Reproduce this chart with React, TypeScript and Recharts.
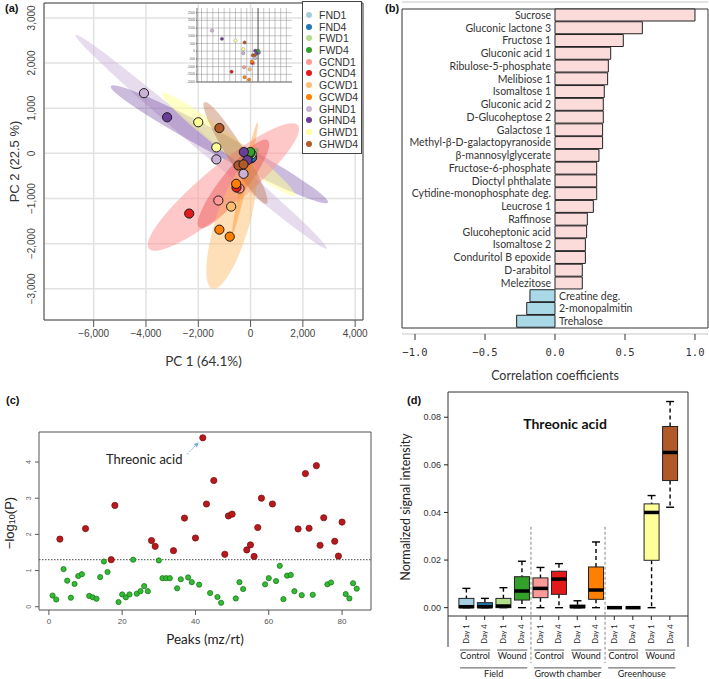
import React from 'react';
import {
  ScatterChart, Scatter, BarChart, Bar, Cell, LabelList, ComposedChart,
  XAxis, YAxis, CartesianGrid, ReferenceArea, ReferenceLine, ReferenceDot,
} from 'recharts';

const SANS = '"Liberation Sans", Arial, sans-serif';
const CAL = 'Lato, "Open Sans", sans-serif';
const MONO = '"DejaVu Sans Mono", monospace';
const MINUS = '\u2212';

// ---------- (a) PCA scores ----------
const groupNames = ['FND1', 'FND4', 'FWD1', 'FWD4', 'GCND1', 'GCND4', 'GCWD1', 'GCWD4', 'GHND1', 'GHND4', 'GHWD1', 'GHWD4'];
const groupColors = ['#a6cee3', '#1f78b4', '#b2df8a', '#33a02c', '#fb9a99', '#e31a1c', '#fdbf6f', '#ff7f00', '#cab2d6', '#6a3d9a', '#ffff99', '#b15928'];
const scoreX: number[][] = [
  [-70, 30], [-40, 60], [-20, 40], [-30, -12],
  [-1231, -423], [-2346, -538], [-742], [-550, -1192, -796],
  [-4077, -1308, -269], [-3192, -258, -120], [-2000, -1308], [-1192, -462, -269],
];
const scoreY: number[][] = [
  [-60, -110], [-30, -90], [10, -20], [-7, 30],
  [-1044, -778], [-1333, -756], [-1178], [-674, -1689, -1844],
  [1333, -133, -452], [800, 29, -150], [689, 133], [561, -267, -244],
];
// confidence ellipses: group, major-axis ends (data units)
const ellipseGroup = [8, 9, 10, 4, 5, 6, 11, 7, 3];
const ellipseFrom = [[-6692, 2622], [-5346, 1489], [-3385, 1333], [-3885, -2111], [-1962, -1644], [-1462, -3000], [-1769, 1133], [-692, -1778], [-300, -120]];
const ellipseTo = [[2923, -2111], [2962, -1089], [1692, -933], [1808, 622], [654, 289], [0, -200], [615, -1111], [269, 689], [300, 100]];
const ellipseHalfWidth = [8, 11, 9, 21, 13, 17, 9, 3, 4];
const ellipseOpacity = [0.45, 0.35, 0.55, 0.55, 0.3, 0.5, 0.35, 0.35, 0.4];

const pcaXTicks = [-6000, -4000, -2000, 0, 2000, 4000];
const pcaYTicks = [-3000, -2000, -1000, 0, 1000, 2000, 3000];
const insetXTicks = [-5000, -4500, -4000, -3500, -3000, -2500, -2000, -1500, -1000, -500, 0, 500, 1000, 1500, 2000, 2500];
const insetYTicks = [-2000, -1500, -1000, -500, 0, 500, 1000, 1500, 2000, 2500];

// ---------- (b) correlation ----------
const corrNames = [
  'Sucrose', 'Gluconic lactone 3', 'Fructose 1', 'Gluconic acid 1', 'Ribulose-5-phosphate', 'Melibiose 1',
  'Isomaltose 1', 'Gluconic acid 2', 'D-Glucoheptose 2', 'Galactose 1', 'Methyl-β-D-galactopyranoside',
  'β-mannosylglycerate', 'Fructose-6-phosphate', 'Dioctyl phthalate', 'Cytidine-monophosphate deg.',
  'Leucrose 1', 'Raffinose', 'Glucoheptonic acid', 'Isomaltose 2', 'Conduritol B epoxide', 'D-arabitol',
  'Melezitose', 'Creatine deg.', '2-monopalmitin', 'Trehalose',
];
const corrValues = [
  1.0, 0.624, 0.488, 0.398, 0.381, 0.376, 0.352, 0.345, 0.345, 0.34, 0.34, 0.314, 0.298, 0.298, 0.298,
  0.274, 0.231, 0.226, 0.217, 0.217, 0.195, 0.195, -0.179, -0.202, -0.274,
];
const corrTicks = [-1, -0.5, 0, 0.5, 1];

// ---------- (c) peaks ----------
const sigPeakIds = [3, 10, 17, 18, 28, 29, 34, 37, 40, 42, 43, 45, 48, 49, 50, 54, 55, 56, 57, 58, 61, 68, 70, 71, 73, 74, 75, 78, 79, 80];
const sigPeakLogP = [1.87, 2.16, 1.3, 2.8, 1.83, 1.67, 1.55, 2.45, 1.9, 4.67, 2.84, 3.49, 1.45, 2.51, 2.56, 1.57, 1.71, 1.39, 2.19, 3.0, 2.84, 2.15, 3.68, 2.17, 3.9, 1.7, 2.46, 1.81, 1.4, 2.34];
const nsPeakIds = [1, 2, 4, 5, 6, 7, 8, 9, 11, 12, 13, 14, 15, 16, 19, 20, 21, 22, 23, 24, 25, 26, 27, 30, 31, 32, 33, 35, 36, 38, 39, 41, 44, 46, 47, 51, 52, 53, 59, 60, 62, 63, 64, 65, 66, 67, 69, 72, 76, 77, 81, 82, 83, 84];
const nsPeakLogP = [0.31, 0.2, 1.04, 0.72, 0.25, 0.63, 0.85, 0.9, 0.3, 0.26, 0.22, 0.82, 1.25, 0.96, 0.13, 0.34, 0.26, 0.34, 1.3, 0.36, 0.43, 0.57, 0.43, 1.28, 0.79, 0.79, 0.79, 0.51, 0.76, 0.81, 0.68, 0.61, 0.38, 0.27, 0.11, 0.23, 0.68, 0.49, 0.62, 0.79, 0.71, 1.13, 0.21, 0.86, 0.88, 0.43, 0.32, 0.33, 0.62, 0.67, 0.35, 0.23, 0.65, 0.5];
const pThreshold = 1.3;
const peakXTicks = [0, 20, 40, 60, 80];
const peakYTicks = [0, 1, 2, 3, 4];

// ---------- (d) threonic acid boxplot ----------
const boxDays = ['Day 1', 'Day 4', 'Day 1', 'Day 4', 'Day 1', 'Day 4', 'Day 1', 'Day 4', 'Day 1', 'Day 4', 'Day 1', 'Day 4'];
const boxLow = [0, 0, 0, 0, 0, 0, 0, 0, 0, 0, 0, 0.0422];
const boxQ1 = [0, 0, 0, 0.0032, 0.0042, 0.0056, 0, 0.0035, 0, 0, 0.0199, 0.0534];
const boxMed = [0.0004, 0.0004, 0.0007, 0.007, 0.0081, 0.012, 0.0004, 0.0074, 0, 0, 0.04, 0.0652];
const boxQ3 = [0.0039, 0.0021, 0.0039, 0.013, 0.0125, 0.0153, 0.0011, 0.0171, 0, 0, 0.0436, 0.0761];
const boxHigh = [0.0081, 0.0039, 0.0084, 0.0195, 0.0169, 0.0185, 0.0029, 0.0276, 0, 0, 0.0471, 0.0866];
const treatmentGroups = [
  { label: 'Control', from: 1, to: 2 }, { label: 'Wound', from: 3, to: 4 },
  { label: 'Control', from: 5, to: 6 }, { label: 'Wound', from: 7, to: 8 },
  { label: 'Control', from: 9, to: 10 }, { label: 'Wound', from: 11, to: 12 },
];
const locationGroups = [
  { label: 'Field', from: 1, to: 4 },
  { label: 'Growth chamber', from: 5, to: 8 },
  { label: 'Greenhouse', from: 9, to: 12 },
];
const boxYTicks = [0, 0.02, 0.04, 0.06, 0.08];

// ---------- helpers ----------
const thousands = (v: number) =>
  (v < 0 ? MINUS : '') + String(Math.abs(v)).replace(/\B(?=(\d{3})+(?!\d))/g, ',');

const RotTick = (p: any) => {
  const { x, y, payload, size, fill, font, fmt } = p;
  return (
    <text x={x} y={y} transform={`rotate(-90 ${x} ${y})`} textAnchor="middle" fontSize={size} fill={fill} fontFamily={font}>
      {fmt ? fmt(payload.value) : payload.value}
    </text>
  );
};

const VLabel = (p: any) => {
  const { vb, x, fallbackY, children, size, font, fill, dy = 0 } = p;
  const cy = (vb && typeof vb.y === 'number' ? vb.y + vb.height / 2 : fallbackY) + dy;
  return (
    <text x={x} y={cy} transform={`rotate(-90 ${x} ${cy})`} textAnchor="middle" dominantBaseline="central" fontSize={size} fontFamily={font} fill={fill}>
      {children}
    </text>
  );
};

const PanelLetter = ({ x, y, text }: { x: number; y: number; text: string }) => (
  <div style={{ position: 'absolute', left: x, top: y, fontFamily: SANS, fontWeight: 700, fontSize: 11, color: '#111', lineHeight: '12px' }}>{text}</div>
);

// ---------- (a) ----------
const A_X: [number, number] = [-7900, 4300];
const A_Y: [number, number] = [-3690, 3330];
const A_W = 370, A_H = 370, A_LEFT = 44, A_RIGHT = 7, A_TOP = 3, A_BOTTOM = 50;
const A_PW = A_W - A_LEFT - A_RIGHT;
const A_PH = A_H - A_TOP - A_BOTTOM;

const ellipseData = ellipseGroup.map((g, i) => ({
  x: (ellipseFrom[i][0] + ellipseTo[i][0]) / 2,
  y: (ellipseFrom[i][1] + ellipseTo[i][1]) / 2,
  x1: ellipseFrom[i][0], y1: ellipseFrom[i][1], x2: ellipseTo[i][0], y2: ellipseTo[i][1],
  color: groupColors[g], hw: ellipseHalfWidth[i], op: ellipseOpacity[i],
}));

const EllipseShape = (p: any) => {
  const { cx, cy, payload: d } = p;
  const kx = A_PW / (A_X[1] - A_X[0]);
  const ky = A_PH / (A_Y[1] - A_Y[0]);
  const dx = (d.x2 - d.x1) * kx;
  const dy = -(d.y2 - d.y1) * ky;
  const rx = Math.hypot(dx, dy) / 2;
  const ang = (Math.atan2(dy, dx) * 180) / Math.PI;
  return <ellipse cx={cx} cy={cy} rx={rx} ry={d.hw} transform={`rotate(${ang} ${cx} ${cy})`} fill={d.color} fillOpacity={d.op} />;
};

const groupData = groupNames.map((_, g) => scoreX[g].map((x, j) => ({ x, y: scoreY[g][j] })));

const PcaPanel = () => (
  <ScatterChart width={A_W} height={A_H} margin={{ top: A_TOP, right: A_RIGHT, bottom: 0, left: 0 }}>
    <CartesianGrid stroke="#e2e2e2" strokeWidth={1.5} />
    <XAxis
      type="number" dataKey="x" domain={A_X} allowDataOverflow ticks={pcaXTicks} height={A_BOTTOM}
      tickFormatter={thousands} tickSize={7} tickMargin={3} axisLine={false} tickLine={{ stroke: '#555' }}
      tick={{ fontSize: 10, fill: '#444', fontFamily: SANS }}
      label={{ value: 'PC 1 (64.1%)', position: 'insideBottom', offset: 4, fontSize: 13.5, fill: '#333', fontFamily: CAL }}
    />
    <YAxis
      type="number" dataKey="y" domain={A_Y} allowDataOverflow ticks={pcaYTicks} width={A_LEFT}
      tickSize={0} tickMargin={9} tickLine={false} axisLine={false}
      tick={(p: any) => <RotTick {...p} size={10} fill="#444" font={SANS} fmt={thousands} />}
      label={{ content: (p: any) => <VLabel vb={p.viewBox} x={14} fallbackY={161} size={13} font={SANS} fill="#333">PC 2 (22.5 %)</VLabel> }}
    />
    <Scatter data={ellipseData} shape={EllipseShape} isAnimationActive={false} />
    {groupNames.map((name, g) => (
      <Scatter
        key={name} name={name} data={groupData[g]} isAnimationActive={false}
        shape={(p: any) => <circle cx={p.cx} cy={p.cy} r={4.6} fill={groupColors[g]} stroke="#1a1a1a" strokeWidth={1} />}
      />
    ))}
    <ReferenceArea x1={A_X[0]} x2={A_X[1]} y1={A_Y[0]} y2={A_Y[1]} fill="none" stroke="#444" strokeWidth={1} ifOverflow="visible" />
  </ScatterChart>
);

// small 3D-view inset, drawn flat
const InsetPanel = () => (
  <ScatterChart width={115} height={100} margin={{ top: 8, right: 6, bottom: 0, left: 0 }}>
    <XAxis type="number" dataKey="x" domain={[-5400, 3000]} allowDataOverflow ticks={insetXTicks} interval={0} height={18} tick={false} tickSize={9} tickLine={{ stroke: '#888' }} axisLine={{ stroke: '#777' }} />
    <YAxis type="number" dataKey="y" domain={[-2000, 2800]} allowDataOverflow ticks={insetYTicks} interval={0} width={14} tickSize={1} tickMargin={1} axisLine={{ stroke: '#777' }} tick={{ fontSize: 3.2, fill: '#555', fontFamily: SANS }} />
    {insetXTicks.map((v) => (
      <ReferenceLine key={`ix${v}`} x={v} stroke="#8c8c8c" strokeWidth={0.5} />
    ))}
    {insetYTicks.map((v) => (
      <ReferenceLine key={`iy${v}`} y={v} stroke="#8c8c8c" strokeWidth={0.5} />
    ))}
    <ReferenceLine x={0} stroke="#555" strokeWidth={0.9} />
    {groupNames.map((name, g) => (
      <Scatter
        key={name} data={groupData[g]} isAnimationActive={false}
        shape={(p: any) => <circle cx={p.cx} cy={p.cy} r={1.7} fill={groupColors[g]} stroke="#555" strokeWidth={0.3} />}
      />
    ))}
  </ScatterChart>
);

const PcaLegend = () => (
  <div style={{ position: 'absolute', left: 302, top: 1, width: 60, height: 153, border: '1px solid #444', background: '#fff', paddingTop: 7, boxSizing: 'border-box' }}>
    {groupNames.map((n, i) => (
      <div key={n} style={{ height: 11.73, display: 'flex', alignItems: 'center', fontFamily: SANS, fontSize: 10.5, color: '#333' }}>
        <span style={{ width: 6, height: 6, borderRadius: 3, background: groupColors[i], marginLeft: 3, marginRight: 7, display: 'inline-block' }} />
        {n}
      </div>
    ))}
  </div>
);

// ---------- (b) ----------
const B_X: [number, number] = [-1.093, 1.093];
const corrData = corrNames.map((name, i) => ({ name, r: corrValues[i] }));

const CorrLabel = (p: any) => {
  const vb = p.viewBox || p;
  const { x, y, width, height } = vb;
  const name = p.value;
  const v = corrValues[corrNames.indexOf(name)];
  const zeroX = v >= 0 ? x : width < 0 ? x : x + width;
  const cy = y + height / 2;
  return (
    <text x={v >= 0 ? zeroX - 4 : zeroX + 4} y={cy} dy="0.36em" textAnchor={v >= 0 ? 'end' : 'start'} fontSize={10.5} fontFamily={CAL} fill="#333">
      {name}
    </text>
  );
};

const CorrPanel = () => (
  <BarChart width={349} height={388} layout="vertical" data={corrData} margin={{ top: 2, right: 1, bottom: 0, left: 42 }} barSize={12}>
    <CartesianGrid vertical={false} stroke="#c8c8c8" strokeWidth={1.2} />
    <XAxis
      type="number" domain={B_X} allowDataOverflow ticks={corrTicks} height={54}
      tickFormatter={(v: number) => (v < 0 ? MINUS : '') + Math.abs(v).toFixed(1)}
      tickSize={6} tickMargin={9} axisLine={false} tickLine={{ stroke: '#333' }}
      tick={{ fontSize: 10.5, fill: '#333', fontFamily: MONO }}
      label={{ value: 'Correlation coefficients', position: 'insideBottom', offset: 8, fontSize: 12.5, fill: '#333', fontFamily: CAL }}
    />
    <YAxis type="category" dataKey="name" width={0} tick={false} tickLine={false} axisLine={false} padding={{ top: 7, bottom: 6 }} />
    <Bar dataKey="r" stroke="#222" strokeWidth={1} isAnimationActive={false}>
      {corrData.map((d) => (
        <Cell key={d.name} fill={d.r >= 0 ? '#fcdcdb' : '#a9d8e6'} />
      ))}
      <LabelList dataKey="name" content={CorrLabel} />
    </Bar>
    <ReferenceArea x1={B_X[0]} x2={B_X[1]} fill="none" stroke="#333" strokeWidth={1} ifOverflow="visible" />
  </BarChart>
);

// ---------- (c) ----------
const C_X: [number, number] = [-2.7, 87.9];
const C_Y: [number, number] = [-0.09, 4.83];
const sigData = sigPeakIds.map((x, i) => ({ x, y: sigPeakLogP[i] }));
const nsData = nsPeakIds.map((x, i) => ({ x, y: nsPeakLogP[i] }));

const ArrowShape = (p: any) => {
  const { x1, y1, x2, y2 } = p;
  if ([x1, y1, x2, y2].some((v) => typeof v !== 'number')) return null;
  const a = Math.atan2(y2 - y1, x2 - x1);
  const L = 5, W = 2.4;
  const bx = x2 - L * Math.cos(a), by = y2 - L * Math.sin(a);
  const pts = `${x2},${y2} ${bx - W * Math.sin(a)},${by + W * Math.cos(a)} ${bx + W * Math.sin(a)},${by - W * Math.cos(a)}`;
  return (
    <g>
      <line x1={x1} y1={y1} x2={bx} y2={by} stroke="#7fb0e0" strokeWidth={1} strokeDasharray="2 1.2" />
      <polygon points={pts} fill="#7fb0e0" />
    </g>
  );
};

const PeaksPanel = () => (
  <ScatterChart width={380} height={280} margin={{ top: 52, right: 9, bottom: 0, left: 0 }}>
    <XAxis
      type="number" dataKey="x" domain={C_X} allowDataOverflow ticks={peakXTicks} height={50}
      tickSize={5} tickMargin={3} axisLine={false} tickLine={{ stroke: '#555' }}
      tick={{ fontSize: 8, fill: '#555', fontFamily: SANS }}
      label={{ value: 'Peaks (mz/rt)', position: 'insideBottom', offset: 16, fontSize: 13.5, fill: '#222', fontFamily: CAL }}
    />
    <YAxis
      type="number" dataKey="y" domain={C_Y} allowDataOverflow ticks={peakYTicks} width={39}
      tickSize={4} tickMargin={4} axisLine={false} tickLine={{ stroke: '#555' }}
      tick={(p: any) => <RotTick {...p} size={7} fill="#666" font={SANS} />}
      label={{
        content: (p: any) => (
          <VLabel vb={p.viewBox} x={9} fallbackY={141} dy={2} size={13} font={SANS} fill="#222">
            <tspan>{MINUS}log</tspan>
            <tspan dy={3} fontSize={9}>10</tspan>
            <tspan dy={-3}>(P)</tspan>
          </VLabel>
        ),
      }}
    />
    <ReferenceLine y={pThreshold} stroke="#444" strokeWidth={1} strokeDasharray="1.5 1.5" />
    <Scatter
      data={nsData} isAnimationActive={false}
      shape={(p: any) => <circle cx={p.cx} cy={p.cy} r={2.6} fill="#33bb33" stroke="#1d7a1d" strokeWidth={0.8} />}
    />
    <Scatter
      data={sigData} isAnimationActive={false}
      shape={(p: any) => <circle cx={p.cx} cy={p.cy} r={3.1} fill="#b8191c" stroke="#7c1010" strokeWidth={0.8} />}
    />
    <ReferenceLine segment={[{ x: 37.7, y: 4.21 }, { x: 40.9, y: 4.55 }]} ifOverflow="visible" shape={ArrowShape} />
    <ReferenceDot
      x={15.3} y={4.06} r={1} fill="none" stroke="none" ifOverflow="visible"
      label={{ value: 'Threonic acid', position: 'right', offset: 0, fontSize: 13, fill: '#222', fontFamily: CAL }}
    />
    <ReferenceArea x1={C_X[0]} x2={C_X[1]} y1={C_Y[0]} y2={C_Y[1]} fill="none" stroke="#555" strokeWidth={1} ifOverflow="visible" />
  </ScatterChart>
);

// ---------- (d) ----------
const D_X: [number, number] = [0.02, 12.98];
const D_Y: [number, number] = [-0.0035, 0.0906];
const boxData = boxDays.map((day, i) => ({
  pos: i + 1, day,
  range: [boxLow[i], boxHigh[i]],
  low: boxLow[i], q1: boxQ1[i], med: boxMed[i], q3: boxQ3[i], high: boxHigh[i],
  color: groupColors[i],
}));

const BoxShape = (p: any) => {
  const { x, y, width, height, payload: d } = p;
  if (typeof x !== 'number' || typeof y !== 'number') return null;
  const top = Math.min(y, y + (height || 0));
  const h = Math.abs(height || 0);
  const span = d.high - d.low;
  const py = (v: number) => (span > 0 ? top + ((d.high - v) / span) * h : top);
  const cx = x + width / 2;
  const cap = 4;
  if (span <= 0) {
    return <line x1={x} x2={x + width} y1={py(d.med)} y2={py(d.med)} stroke="#000" strokeWidth={3.5} />;
  }
  return (
    <g>
      <line x1={cx} x2={cx} y1={py(d.high)} y2={py(d.q3)} stroke="#000" strokeWidth={1.4} strokeDasharray="4 3" />
      <line x1={cx} x2={cx} y1={py(d.q1)} y2={py(d.low)} stroke="#000" strokeWidth={1.4} strokeDasharray="4 3" />
      <line x1={cx - cap} x2={cx + cap} y1={py(d.high)} y2={py(d.high)} stroke="#000" strokeWidth={1.4} />
      <line x1={cx - cap} x2={cx + cap} y1={py(d.low)} y2={py(d.low)} stroke="#000" strokeWidth={1.4} />
      <rect x={x} y={py(d.q3)} width={width} height={Math.max(py(d.q1) - py(d.q3), 0.5)} fill={d.color} stroke="#222" strokeWidth={1} />
      <line x1={x} x2={x + width} y1={py(d.med)} y2={py(d.med)} stroke="#000" strokeWidth={3.5} />
    </g>
  );
};

const DAY_Y = -0.0111;
const TREAT_Y = -0.0178;
const LOC_Y = -0.0253;
const SEP_TOP = 0.034;
const SEP_BOTTOM = -0.0233;
const AXIS_EXT = -0.0165;

const BoxPanel = () => (
  <ComposedChart width={329} height={299} data={boxData} margin={{ top: 12, right: 21, bottom: 0, left: 0 }}>
    <XAxis
      type="number" dataKey="pos" domain={D_X} allowDataOverflow ticks={boxData.map((d) => d.pos)} interval={0} height={63}
      tickSize={4} tickMargin={2} axisLine={false} tickLine={{ stroke: '#222' }} tick={() => <g />}
    />
    <YAxis
      type="number" domain={D_Y} allowDataOverflow ticks={boxYTicks} width={68}
      tickFormatter={(v: number) => v.toFixed(2)} tickSize={4} tickMargin={3} axisLine={false} tickLine={{ stroke: '#222' }}
      tick={{ fontSize: 9, fill: '#333', fontFamily: SANS }}
      label={{ content: (p: any) => <VLabel vb={p.viewBox} x={25} fallbackY={124} dy={3} size={12.5} font={CAL} fill="#222">Normalized signal intensity</VLabel> }}
    />
    <Bar dataKey="range" barSize={15} shape={BoxShape} isAnimationActive={false} />
    {boxData.map((d) => (
      <ReferenceDot
        key={`day${d.pos}`} x={d.pos} y={DAY_Y} r={1} fill="none" stroke="none" ifOverflow="visible"
        label={{ value: d.day, position: 'center', angle: -90, fontSize: 7.5, fill: '#222', fontFamily: CAL }}
      />
    ))}
    <ReferenceLine segment={[{ x: 4.5, y: SEP_TOP }, { x: 4.5, y: SEP_BOTTOM }]} ifOverflow="visible" stroke="#888" strokeDasharray="3 2" />
    <ReferenceLine segment={[{ x: 8.5, y: SEP_TOP }, { x: 8.5, y: SEP_BOTTOM }]} ifOverflow="visible" stroke="#888" strokeDasharray="3 2" />
    <ReferenceLine segment={[{ x: D_X[0], y: D_Y[0] }, { x: D_X[0], y: AXIS_EXT }]} ifOverflow="visible" stroke="#333" />
    <ReferenceLine segment={[{ x: D_X[1], y: D_Y[0] }, { x: D_X[1], y: AXIS_EXT }]} ifOverflow="visible" stroke="#333" />
    {treatmentGroups.map((g, i) => (
      <ReferenceLine
        key={`t${i}`} segment={[{ x: g.from - 0.33, y: TREAT_Y }, { x: g.to + 0.3, y: TREAT_Y }]} ifOverflow="visible" stroke="#555"
        label={{ value: g.label, position: 'bottom', offset: 3, fontSize: 9, fill: '#222', fontFamily: CAL }}
      />
    ))}
    {locationGroups.map((g, i) => (
      <ReferenceLine
        key={`l${i}`} segment={[{ x: g.from - 0.33, y: LOC_Y }, { x: g.to + 0.3, y: LOC_Y }]} ifOverflow="visible" stroke="#555"
        label={{ value: g.label, position: 'bottom', offset: 3, fontSize: 9, fill: '#222', fontFamily: CAL }}
      />
    ))}
    <ReferenceDot
      x={6.34} y={0.0772} r={1} fill="none" stroke="none"
      label={{ value: 'Threonic acid', position: 'center', fontSize: 14, fontWeight: 700, fill: '#111', fontFamily: CAL }}
    />
    <ReferenceArea x1={D_X[0]} x2={D_X[1]} y1={D_Y[0]} y2={D_Y[1]} fill="none" stroke="#333" strokeWidth={1} ifOverflow="visible" />
  </ComposedChart>
);

export default function App() {
  return (
    <div style={{ position: 'absolute', left: 0, top: 0, width: 709, height: 679, background: '#fff', overflow: 'hidden' }}>
      <div style={{ position: 'absolute', left: 0, top: 0 }}><PcaPanel /></div>
      <div style={{ position: 'absolute', left: 183, top: 0 }}><InsetPanel /></div>
      <PcaLegend />
      <div style={{ position: 'absolute', left: 360, top: 0 }}><CorrPanel /></div>
      <div style={{ position: 'absolute', left: 0, top: 380 }}><PeaksPanel /></div>
      <div style={{ position: 'absolute', left: 380, top: 380 }}><BoxPanel /></div>
      <PanelLetter x={5} y={2} text="(a)" />
      <PanelLetter x={385} y={2} text="(b)" />
      <PanelLetter x={6} y={394} text="(c)" />
      <PanelLetter x={407} y={394} text="(d)" />
    </div>
  );
}
